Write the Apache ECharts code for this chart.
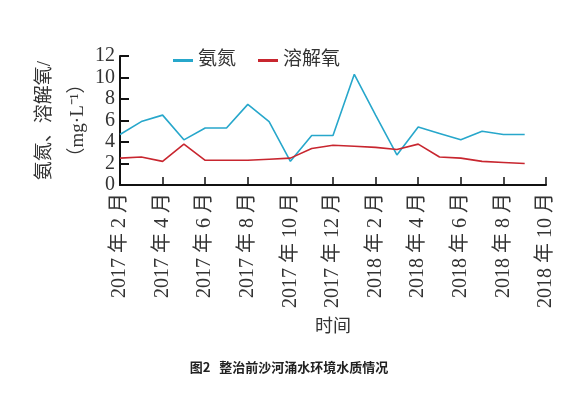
<!DOCTYPE html>
<html><head><meta charset="utf-8">
<script src="https://cdn.jsdelivr.net/npm/echarts@6/dist/echarts.min.js"></script>
<style>html,body{margin:0;padding:0;background:#fff}#c{width:578px;height:396px}</style>
</head><body><div id="c"></div>
<script>
var months = ['2017 年 2 月','2017 年 3 月','2017 年 4 月','2017 年 5 月','2017 年 6 月','2017 年 7 月','2017 年 8 月','2017 年 9 月','2017 年 10 月','2017 年 11 月','2017 年 12 月','2018 年 1 月','2018 年 2 月','2018 年 3 月','2018 年 4 月','2018 年 5 月','2018 年 6 月','2018 年 7 月','2018 年 8 月','2018 年 9 月','2018 年 10 月'];
var ammonia = [4.7, 5.9, 6.5, 4.2, 5.3, 5.3, 7.5, 5.9, 2.2, 4.6, 4.6, 10.3, 6.5, 2.8, 5.4, 4.8, 4.2, 5.0, 4.7, 4.7];
var oxygen = [2.5, 2.6, 2.2, 3.8, 2.3, 2.3, 2.3, 2.4, 2.5, 3.4, 3.7, 3.6, 3.5, 3.3, 3.8, 2.6, 2.5, 2.2, 2.1, 2.0];
var yTicks = {min: 0, max: 12, step: 2};
var seriesNames = ['氨氮', '溶解氧'];

var serif = '"Liberation Serif","Noto Sans CJK SC",serif';
var chart = echarts.init(document.getElementById('c'));
chart.setOption({
  animation: false,
  backgroundColor: '#fff',
  legend: {
    top: 46, left: 168, itemGap: 22, itemWidth: 20, itemHeight: 3,
    icon: 'rect',
    textStyle: {fontFamily: serif, fontSize: 19, color: '#333'},
    data: seriesNames
  },
  graphic: [{
    type: 'text', left: 'center', top: 361,
    style: {text: '图2   整治前沙河涌水环境水质情况', font: 'bold 13px "Noto Sans CJK SC",sans-serif', fill: '#222'}
  }],
  grid: {left: 120, right: 32, top: 56, bottom: 211, containLabel: false},
  xAxis: {
    type: 'category', data: months, boundaryGap: false,
    name: '时间', nameLocation: 'middle', nameGap: 133,
    nameTextStyle: {fontFamily: serif, fontSize: 18, color: '#333'},
    axisLine: {show: true, lineStyle: {color: '#111', width: 2}},
    axisTick: {show: true, inside: true, length: 8, interval: 1, lineStyle: {color: '#111', width: 1.5}},
    axisLabel: {show: true, rotate: 90, interval: 1, margin: 8, fontFamily: serif, fontSize: 20, color: '#333', hideOverlap: false}
  },
  yAxis: {
    type: 'value', min: yTicks.min, max: yTicks.max, interval: yTicks.step,
    name: '氨氮、溶解氧/\n（mg·L⁻¹）', nameLocation: 'middle', nameRotate: 90, nameGap: 25, nameMoveOverlap: false,
    nameTextStyle: {fontFamily: serif, fontSize: 19, color: '#333', lineHeight: 33},
    splitLine: {show: false},
    axisLine: {show: true, lineStyle: {color: '#111', width: 2}},
    axisTick: {show: true, inside: true, length: 9, lineStyle: {color: '#111', width: 2}},
    axisLabel: {show: true, interval: 0, showMinLabel: true, showMaxLabel: true, hideOverlap: false, margin: 5, fontFamily: serif, fontSize: 20, color: '#333'}
  },
  series: [
    {name: seriesNames[0], type: 'line', data: ammonia, symbol: 'none', lineStyle: {color: '#27a7cb', width: 1.6}, itemStyle: {color: '#27a7cb'}},
    {name: seriesNames[1], type: 'line', data: oxygen, symbol: 'none', lineStyle: {color: '#c8262f', width: 1.6}, itemStyle: {color: '#c8262f'}}
  ]
});
</script></body></html>
